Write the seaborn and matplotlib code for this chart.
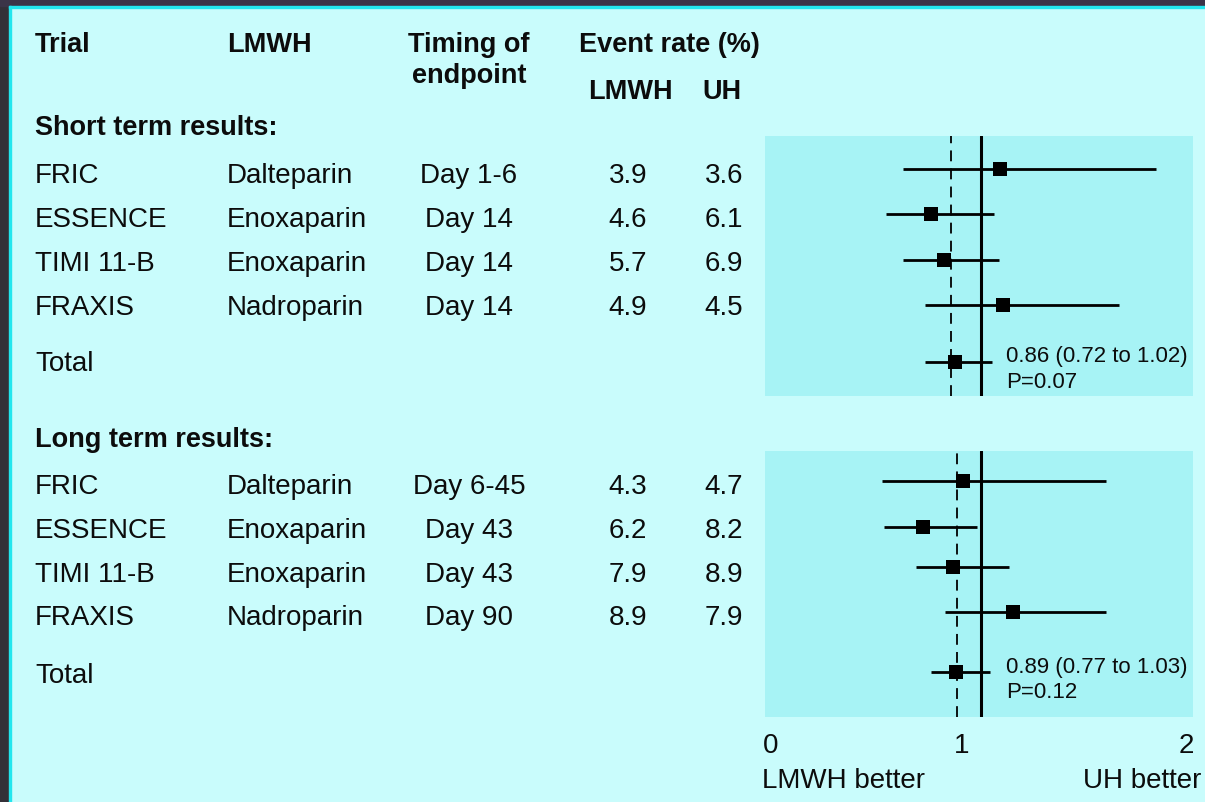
import matplotlib
matplotlib.use("Agg")
import matplotlib.pyplot as plt
from matplotlib.patches import Rectangle
import seaborn as sns
import pandas as pd

# table columns
trials = ["FRIC", "ESSENCE", "TIMI 11-B", "FRAXIS"]
drugs = ["Dalteparin", "Enoxaparin", "Enoxaparin", "Nadroparin"]
short_timing = ["Day 1-6", "Day 14", "Day 14", "Day 14"]
short_lmwh = ["3.9", "4.6", "5.7", "4.9"]
short_uh = ["3.6", "6.1", "6.9", "4.5"]
long_timing = ["Day 6-45", "Day 43", "Day 43", "Day 90"]
long_lmwh = ["4.3", "6.2", "7.9", "8.9"]
long_uh = ["4.7", "8.2", "8.9", "7.9"]

# odds ratios (4 trials + total)
short_or = [1.09, 0.77, 0.83, 1.10, 0.88]
short_lo = [0.64, 0.56, 0.64, 0.74, 0.74]
short_hi = [1.81, 1.06, 1.085, 1.64, 1.05]
long_or = [0.915, 0.73, 0.87, 1.15, 0.885]
long_lo = [0.54, 0.55, 0.70, 0.835, 0.77]
long_hi = [1.58, 0.98, 1.13, 1.58, 1.04]
pooled = [0.86, 0.89]
total_text = ["0.86 (0.72 to 1.02)", "0.89 (0.77 to 1.03)"]
p_text = ["P=0.07", "P=0.12"]
tick_labels = ["0", "1", "2"]

BG = "#c9fcfc"
PANEL = "#a7f3f5"
DARK = "#333038"
INK = "#0c0c0c"

sns.set_style("white")
plt.rcParams["font.family"] = ["Liberation Sans", "DejaVu Sans"]

fig = plt.figure(figsize=(12.05, 8.03), dpi=100)
fig.patch.set_facecolor(BG)

# full-figure axes in pixel units for the table text
bg = fig.add_axes([0, 0, 1, 1])
bg.set_xlim(0, 1205)
bg.set_ylim(803, 0)
bg.axis("off")
bg.add_patch(Rectangle((0, 0), 9, 803, color=DARK))
bg.add_patch(Rectangle((0, 0), 1205, 7, color="#3b3448"))
bg.add_patch(Rectangle((9, 7), 2, 796, color="#22e6ee"))
bg.add_patch(Rectangle((9, 7), 1196, 2, color="#22e6ee"))

hdr = dict(fontsize=19.5, fontweight="bold", color=INK)
row = dict(fontsize=20, color=INK)

bg.text(35, 52, "Trial", ha="left", **hdr)
bg.text(227, 52, "LMWH", ha="left", **hdr)
bg.text(469, 52, "Timing of", ha="center", **hdr)
bg.text(469, 83, "endpoint", ha="center", **hdr)
bg.text(579, 52, "Event rate (%)", ha="left", **hdr)
bg.text(630, 99, "LMWH", ha="center", **hdr)
bg.text(722, 99, "UH", ha="center", **hdr)


def table_block(title, title_y, baselines, timing, lmwh, uh):
    bg.text(35, title_y, title, ha="left", **hdr)
    for i, y in enumerate(baselines[:4]):
        bg.text(35, y, trials[i], ha="left", **row)
        bg.text(227, y, drugs[i], ha="left", **row)
        bg.text(469, y, timing[i], ha="center", **row)
        bg.text(628, y, lmwh[i], ha="center", **row)
        bg.text(724, y, uh[i], ha="center", **row)
    bg.text(35, baselines[4], "Total", ha="left", **row)


table_block("Short term results:", 135, [183, 227, 271, 315, 371],
            short_timing, short_lmwh, short_uh)
table_block("Long term results:", 447, [494, 538, 582, 625, 683],
            long_timing, long_lmwh, long_uh)


def forest(rect, est, lo, hi, ypos, ylim, pool):
    ax = fig.add_axes(rect)
    ax.set_facecolor(PANEL)
    df = pd.DataFrame({"row": ypos, "est": est, "lo": lo, "hi": hi})
    ax.hlines(df["row"], df["lo"], df["hi"], color="black", lw=2, zorder=2)
    sns.scatterplot(data=df, x="est", y="row", marker="s", s=110,
                    color="black", edgecolor="black", linewidth=0, ax=ax, zorder=3)
    ax.axvline(1, color="black", lw=2.2, zorder=1)
    ax.axvline(pool, color="black", lw=1.3, ls=(0, (6, 4)), zorder=1)
    ax.set_xlim(0, 428 / 216)
    ax.set_ylim(*ylim)
    ax.set_xlabel("")
    ax.set_ylabel("")
    ax.set_xticks([])
    ax.set_yticks([])
    for s in ax.spines.values():
        s.set_visible(False)
    return ax


forest([765 / 1205, 1 - 397 / 803, 428 / 1205, 260 / 803],
       short_or, short_lo, short_hi, [0, 1, 2, 3, 4.25], (5.0, -0.73), pooled[0])
forest([765 / 1205, 1 - 718 / 803, 428 / 1205, 266 / 803],
       long_or, long_lo, long_hi, [0, 1.05, 1.97, 3, 4.37], (5.4, -0.69), pooled[1])

ann = dict(fontsize=16, color=INK, ha="left", zorder=5)
for y1, y2, t, p in [(362, 388, total_text[0], p_text[0]),
                     (673, 698, total_text[1], p_text[1])]:
    fig.text(1006 / 1205, 1 - y1 / 803, t, **ann)
    fig.text(1006 / 1205, 1 - y2 / 803, p, **ann)

tick = dict(fontsize=20, color=INK)
bg.text(763, 753, tick_labels[0], ha="left", **tick)
bg.text(962, 753, tick_labels[1], ha="center", **tick)
bg.text(1194, 753, tick_labels[2], ha="right", **tick)
bg.text(762, 788, "LMWH better", ha="left", fontsize=20, color=INK)
bg.text(1201, 788, "UH better", ha="right", fontsize=20, color=INK)

fig.savefig("out.png", dpi=100, facecolor=fig.get_facecolor())
